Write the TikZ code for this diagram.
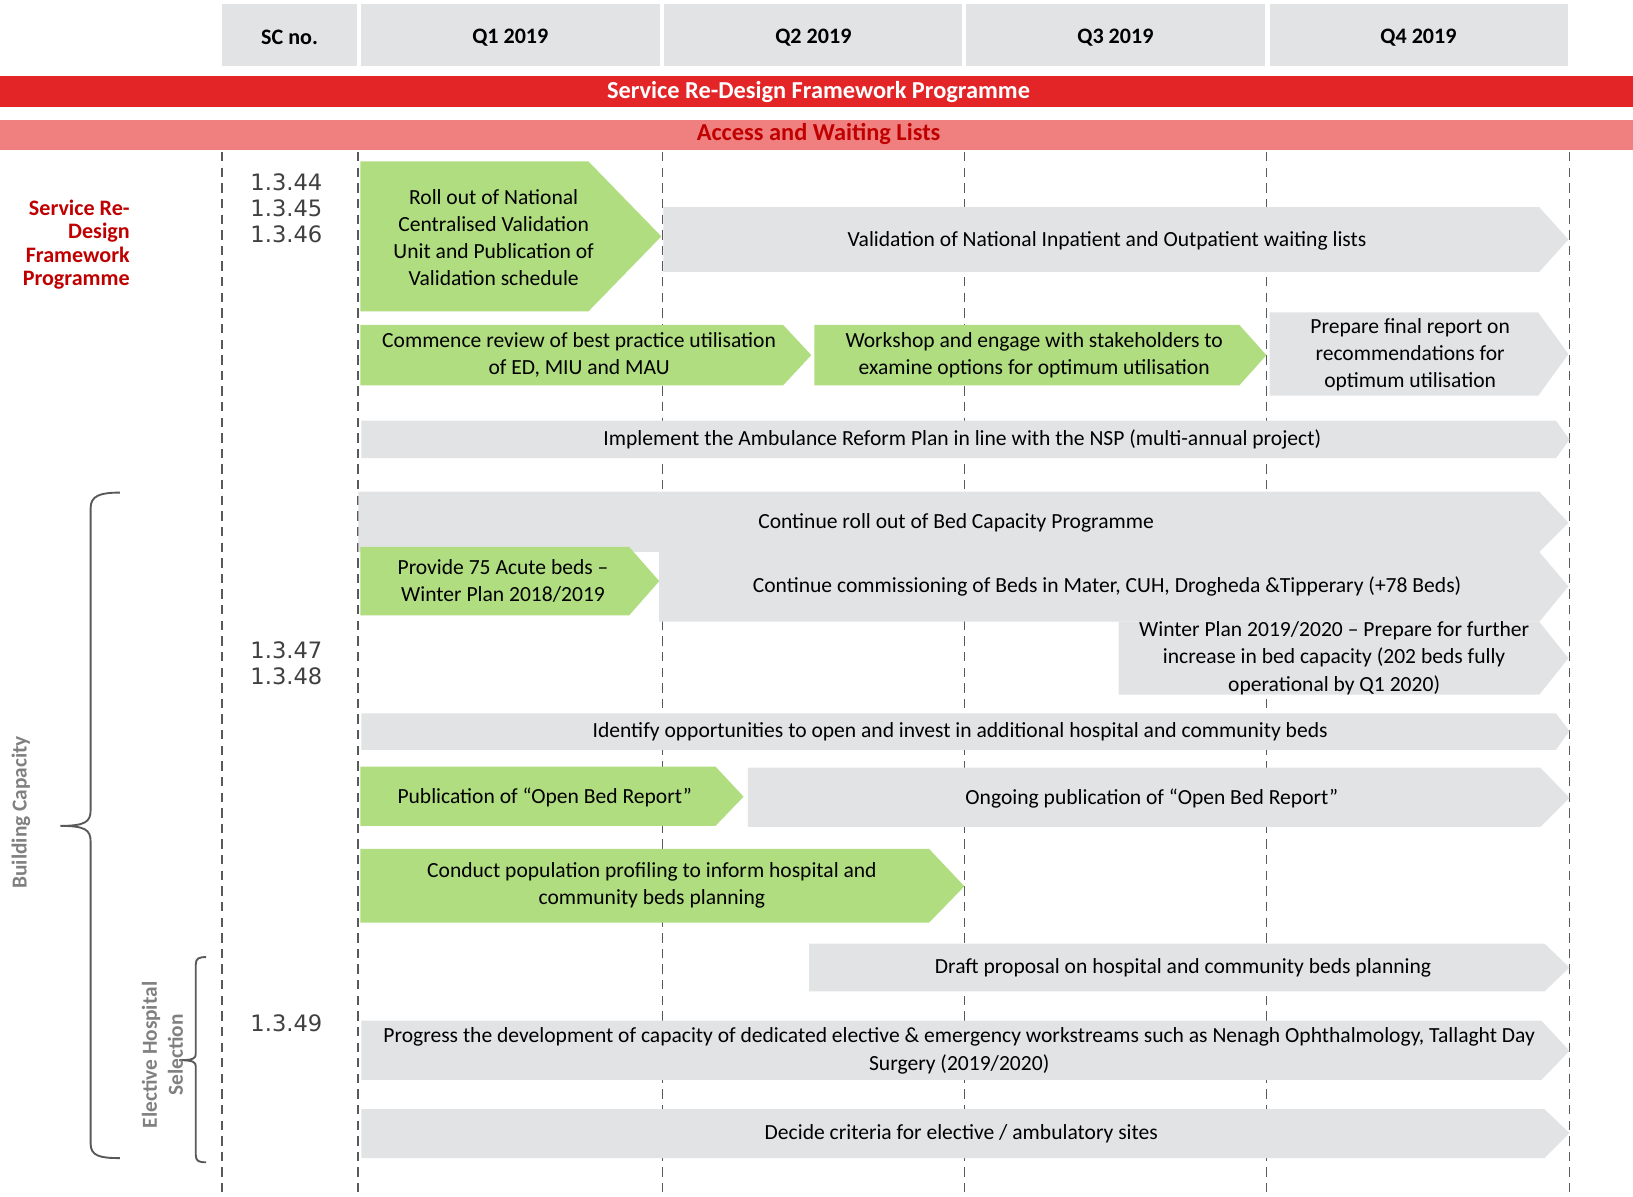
\documentclass[tikz,border=0pt]{standalone}
\usepackage{fontspec}
\setmainfont{Carlito}
\newfontfamily\scfont{DejaVu Sans}
\definecolor{hdrgrey}{RGB}{226,227,229}
\definecolor{bargrey}{RGB}{226,227,229}
\definecolor{bargreen}{RGB}{176,221,128}
\definecolor{progred}{RGB}{227,37,39}
\definecolor{accpink}{RGB}{240,128,128}
\definecolor{darkred}{RGB}{192,0,0}
\definecolor{lineg}{RGB}{89,89,89}

\begin{document}
\begin{tikzpicture}[x=0.5pt, y=-0.5pt,
  hdrtext/.style={font=\fontsize{10.6}{12}\selectfont\bfseries},
  bannertext/.style={font=\fontsize{11.7}{13}\selectfont\bfseries},
  bartext/.style={font=\fontsize{10.35}{13}\selectfont, align=center, inner sep=0pt},
  scnum/.style={font=\scfont\fontsize{10.85}{12.25}\selectfont, text=black!75, align=center, inner sep=0pt},
  sidetext/.style={font=\fontsize{10.6}{11.2}\selectfont\bfseries, text=darkred, align=right, inner sep=0pt},
  grouptext/.style={font=\fontsize{10.25}{12.5}\selectfont\bfseries, text=black!50, align=center, inner sep=0pt},
  quarter/.style={lineg, line width=0.8pt, dash pattern=on 4.5pt off 3pt},
  brace/.style={lineg, line width=0.9pt},
]
  \useasboundingbox (0,0) rectangle (1568,1149);

  % column heads
  \fill[hdrgrey] (213,4) rectangle (343,63);
  \node[hdrtext] (scno) at (278,36) {SC no.};
  \fill[hdrgrey] (347,4) rectangle (634,63);
  \node[hdrtext] (q1) at (490,36) {Q1 2019};
  \fill[hdrgrey] (638,4) rectangle (924,63);
  \node[hdrtext] (q2) at (781,36) {Q2 2019};
  \fill[hdrgrey] (928,4) rectangle (1215,63);
  \node[hdrtext] (q3) at (1071,36) {Q3 2019};
  \fill[hdrgrey] (1219,4) rectangle (1506,63);
  \node[hdrtext] (q4) at (1362,36) {Q4 2019};

  % banners
  \fill[progred] (0,73) rectangle (1568,103);
  \node[bannertext, text=white] (prog) at (786,88) {Service Re-Design Framework Programme};
  \fill[accpink] (0,115) rectangle (1568,144);
  \node[bannertext, text=darkred] (access) at (786,129) {Access and Waiting Lists};

  % quarter lines
  \draw[quarter] (213,146) -- (213,1145);
  \draw[quarter] (344,146) -- (344,1145);
  \draw[quarter] (636,146) -- (636,1145);
  \draw[quarter] (926,146) -- (926,1145);
  \draw[quarter] (1216,146) -- (1216,1145);
  \draw[quarter] (1507,146) -- (1507,1145);

  % left labels
  \node[sidetext, anchor=east] (srdf) at (125,235) {Service Re-\\Design\\Framework\\Programme};
  \node[scnum] (sc1) at (275,200) {1.3.44\\1.3.45\\1.3.46};
  \node[scnum] (sc2) at (275,637) {1.3.47\\1.3.48};
  \node[scnum] (sc3) at (275,983) {1.3.49};

  \draw[brace] (115,473) .. controls (96,473) and (87,476) .. (87,488) -- (87,778)
    .. controls (87,789) and (82,793) .. (58,793)
    .. controls (82,793) and (87,797) .. (87,808) -- (87,1098)
    .. controls (87,1110) and (96,1112) .. (115,1112);
  \node[grouptext, rotate=90] (bldcap) at (20,780) {Building Capacity};
  \draw[brace] (198,919) .. controls (191,919) and (188,920) .. (188,926) -- (188,1012)
    .. controls (188,1016) and (186,1018) .. (172,1018)
    .. controls (186,1018) and (188,1020) .. (188,1024) -- (188,1109)
    .. controls (188,1115) and (191,1116) .. (198,1116);
  \node[grouptext, rotate=90] (elective) at (156,1013) {Elective Hospital\\Selection};

  % validation
  \fill[bargreen] (346,155) -- (565,155) -- (635,227) -- (565,299) -- (346,299) -- cycle;
  \node[bartext] (rollout) at (474,228) {Roll out of National\\Centralised Validation\\Unit and Publication of\\Validation schedule};
  \fill[bargrey] (637,199) -- (1478,199) -- (1506,230) -- (1478,261) -- (637,261) -- cycle;
  \node[bartext] (validation) at (1063,231) {Validation of National Inpatient and Outpatient waiting lists};

  % ED, MIU, MAU
  \fill[bargreen] (346,312) -- (752,312) -- (779,341) -- (752,370) -- (346,370) -- cycle;
  \node[bartext] (review) at (556,341) {Commence review of best practice utilisation\\of ED, MIU and MAU};
  \fill[bargreen] (782,312) -- (1190,312) -- (1216,341) -- (1190,370) -- (782,370) -- cycle;
  \node[bartext] (workshop) at (993,341) {Workshop and engage with stakeholders to\\examine options for optimum utilisation};
  \fill[bargrey] (1219,300) -- (1477,300) -- (1506,340) -- (1477,380) -- (1219,380) -- cycle;
  \node[bartext] (finalrep) at (1354,341) {Prepare final report on\\recommendations for\\optimum utilisation};

  % ambulance
  \fill[bargrey] (347,404) -- (1494,404) -- (1507,422) -- (1494,440) -- (347,440) -- cycle;
  \node[bartext] (ambulance) at (924,422) {Implement the Ambulance Reform Plan in line with the NSP (multi-annual project)};

  % bed capacity
  \fill[bargrey] (344,472) -- (1478,472) -- (1506,502) -- (1478,530) -- (344,530) -- cycle;
  \node[bartext] (bedprog) at (918,502) {Continue roll out of Bed Capacity Programme};
  \fill[bargrey] (633,530) -- (1478,530) -- (1506,563) -- (1478,597) -- (633,597) -- cycle;
  \node[bartext] (commission) at (1063,563) {Continue commissioning of Beds in Mater, CUH, Drogheda \&Tipperary (+78 Beds)};
  \fill[bargreen] (346,525) -- (604,525) -- (633,558) -- (604,591) -- (346,591) -- cycle;
  \node[bartext] (acute) at (483,558) {Provide 75 Acute beds –\\Winter Plan 2018/2019};
  \fill[bargrey] (1074,597) -- (1478,597) -- (1506,632) -- (1478,667) -- (1074,667) -- cycle;
  \node[bartext] (winter) at (1281,632) {Winter Plan 2019/2020 – Prepare for further\\increase in bed capacity (202 beds fully\\operational by Q1 2020)};

  \fill[bargrey] (347,685) -- (1494,685) -- (1507,702) -- (1494,720) -- (347,720) -- cycle;
  \node[bartext] (identify) at (922,703) {Identify opportunities to open and invest in additional hospital and community beds};

  % open bed report
  \fill[bargreen] (346,736) -- (687,736) -- (714,765) -- (687,793) -- (346,793) -- cycle;
  \node[bartext] (pubobr) at (523,766) {Publication of “Open Bed Report”};
  \fill[bargrey] (718,737) -- (1479,737) -- (1507,766) -- (1479,794) -- (718,794) -- cycle;
  \node[bartext] (ongoing) at (1106,767) {Ongoing publication of “Open Bed Report”};

  % planning
  \fill[bargreen] (346,815) -- (892,815) -- (926,851) -- (892,886) -- (346,886) -- cycle;
  \node[bartext] (profiling) at (626,850) {Conduct population profiling to inform hospital and\\community beds planning};
  \fill[bargrey] (777,906) -- (1483,906) -- (1507,929) -- (1483,952) -- (777,952) -- cycle;
  \node[bartext] (draft) at (1136,929) {Draft proposal on hospital and community beds planning};

  % elective sites
  \fill[bargrey] (347,980) -- (1480,980) -- (1507,1009) -- (1480,1037) -- (347,1037) -- cycle;
  \node[bartext] (progress) at (921,1009) {Progress the development of capacity of dedicated elective \& emergency workstreams such as Nenagh Ophthalmology, Tallaght Day\\Surgery (2019/2020)};
  \fill[bargrey] (347,1065) -- (1483,1065) -- (1507,1088) -- (1483,1112) -- (347,1112) -- cycle;
  \node[bartext] (criteria) at (923,1089) {Decide criteria for elective / ambulatory sites};
\end{tikzpicture}
\end{document}
